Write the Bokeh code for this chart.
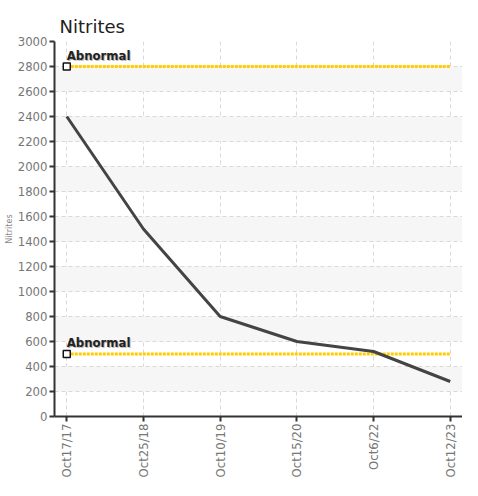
from bokeh.plotting import figure
from bokeh.models import FixedTicker, Range1d, ColumnDataSource
from bokeh.core.properties import value
from bokeh.embed import file_html
from bokeh.resources import INLINE

dates = ["Oct17/17", "Oct25/18", "Oct10/19", "Oct15/20", "Oct6/22", "Oct12/23"]
nitrites = [2400, 1500, 800, 600, 520, 280]
abnormal_levels = [2800, 500]
abnormal_label = "Abnormal"
y_ticks = list(range(0, 3001, 200))

xs = list(range(len(dates)))
COND = "DejaVu Sans Condensed"

p = figure(width=462, height=480, output_backend="svg", toolbar_location=None,
           x_range=Range1d(-0.16, len(dates) - 1 + 0.16), y_range=Range1d(0, 3000),
           min_border_left=30, min_border_right=0, min_border_top=41, min_border_bottom=0)

p.title.text = "Nitrites"
p.title.text_font = "DejaVu Sans"
p.title.text_font_size = "18px"
p.title.text_font_style = "normal"
p.title.text_color = "#222222"
p.title.offset = 5

p.outline_line_color = None

# grids
p.xgrid.ticker = FixedTicker(ticks=xs)
p.ygrid.ticker = FixedTicker(ticks=y_ticks)
for g in (p.xgrid, p.ygrid):
    g.grid_line_color = "#d9d9d9"
    g.grid_line_dash = "4 3"
    g.grid_line_width = 1
p.ygrid.band_fill_color = "#f6f6f6"
p.ygrid.band_fill_alpha = 1

# axes
p.xaxis.ticker = FixedTicker(ticks=xs)
p.xaxis.major_label_overrides = {i: d for i, d in enumerate(dates)}
p.xaxis.major_label_orientation = 1.5708
p.yaxis.ticker = FixedTicker(ticks=y_ticks)
for ax in (p.xaxis[0], p.yaxis[0]):
    ax.axis_line_color = "#333333"
    ax.axis_line_width = 2
    ax.major_tick_line_color = "#333333"
    ax.major_tick_line_width = 2
    ax.major_tick_out = 5
    ax.major_tick_in = 0
    ax.minor_tick_line_color = None
    ax.major_label_text_font = COND
    ax.major_label_text_font_size = "13px"
    ax.major_label_text_color = "#777777"
    ax.major_label_standoff = 2
p.yaxis.axis_label = "Nitrites"
p.yaxis.axis_label_text_font = COND
p.yaxis.axis_label_text_font_size = "9px"
p.yaxis.axis_label_text_font_style = "normal"
p.yaxis.axis_label_text_color = "#888888"
p.yaxis.axis_label_standoff = 1

# abnormal lines
for lvl in abnormal_levels:
    p.line(x=[xs[0], xs[-1]], y=[lvl, lvl], line_color="#FFCC00", line_width=3, line_dash="3 1")

# data line
p.line(x=xs, y=nitrites, line_color="#444444", line_width=3)

# markers and labels
src = ColumnDataSource(dict(x=[xs[0]] * len(abnormal_levels), y=abnormal_levels,
                            t=[abnormal_label] * len(abnormal_levels)))
p.scatter(x="x", y="y", source=src, marker="square", size=7, fill_color="white",
          line_color="#111111", line_width=1.5)
p.text(x="x", y="y", text="t", source=src, x_offset=1, y_offset=-3,
       text_font=value(COND), text_font_size="13px", text_font_style="bold",
       text_color="#bbbbbb", text_baseline="bottom", text_align="left")
p.text(x="x", y="y", text="t", source=src, x_offset=0, y_offset=-4,
       text_font=value(COND), text_font_size="13px", text_font_style="bold",
       text_color="#222222", text_baseline="bottom", text_align="left")

open("out.html", "w").write(file_html(p, INLINE))
